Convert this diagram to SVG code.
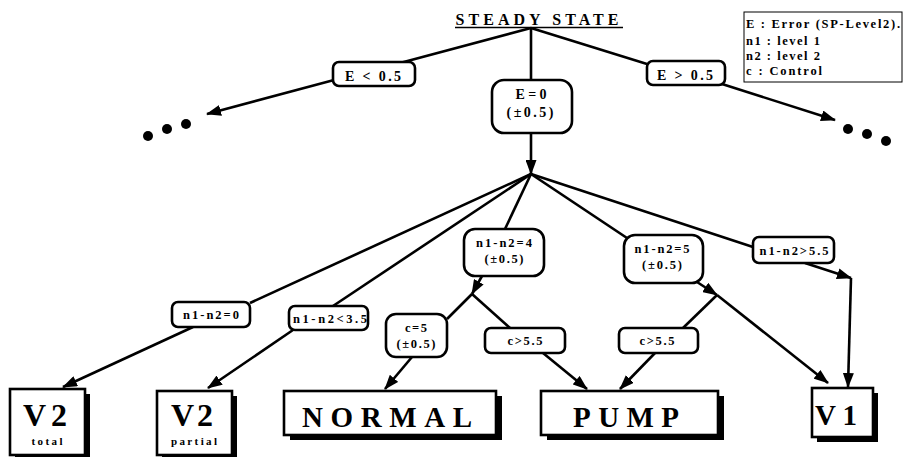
<svg xmlns="http://www.w3.org/2000/svg" width="903" height="457" viewBox="0 0 903 457">
  <style>
    text { font-family: "Liberation Serif", "Times New Roman", serif; font-weight: bold; fill: #000; }
    .lbl { font-size: 12.5px; text-anchor: middle; }
    .elbl { font-size: 14px; text-anchor: middle; }
    .leg { font-size: 12.5px; }
    .big { font-size: 32px; text-anchor: middle; }
    .mid { font-size: 29px; text-anchor: middle; }
    .sub { font-size: 11px; text-anchor: middle; }
    .box { fill: #fff; stroke: #000; stroke-width: 2.6; }
    .shadow { fill: #000; }
    .edge { fill: none; stroke: #000; stroke-width: 2.6; }
    .arrow { marker-end: url(#head); }
  </style>
  <defs>
    <marker id="head" markerUnits="userSpaceOnUse" markerWidth="15" markerHeight="11" viewBox="0 0 15 11" refX="14" refY="5.5" orient="auto">
      <path d="M0,0 L15,5.5 L0,11 z" fill="#000"/>
    </marker>
  </defs>

  <!-- connectors -->
  <g id="connectors">
    <path class="edge" d="M531,28 L400,63"/>
    <path class="edge arrow" d="M334,80 L207,114"/>
    <path class="edge" d="M531,28 L647,64"/>
    <path class="edge arrow" d="M722,84 L835,120"/>
    <path class="edge" d="M531,28 V80"/>
    <path class="edge arrow" d="M531,133 V174"/>
    <path class="edge" d="M531,174 L250,303"/>
    <path class="edge" d="M531,174 L333,306"/>
    <path class="edge" d="M531,174 L505,229"/>
    <path class="edge" d="M531,174 L627,238"/>
    <path class="edge" d="M531,174 L753,247"/>
    <path class="edge arrow" d="M193,327 L63,387"/>
    <path class="edge arrow" d="M293,330 L208,388"/>
    <path class="edge arrow" d="M482,276 L472,294"/>
    <path class="edge" d="M472,294 L447,319"/>
    <path class="edge" d="M472,294 L510,328"/>
    <path class="edge arrow" d="M412,357 L385,389"/>
    <path class="edge arrow" d="M543,353 L587,389"/>
    <path class="edge arrow" d="M697,282 L717,295"/>
    <path class="edge" d="M717,295 L683,328"/>
    <path class="edge arrow" d="M655,353 L620,389"/>
    <path class="edge arrow" d="M717,295 L828,383"/>
    <path class="edge arrow" d="M805,263 L851,278"/>
    <path class="edge arrow" d="M851,278 L848,387"/>
    <!-- continuation dots -->
    <circle cx="148" cy="136" r="5"/>
    <circle cx="167" cy="129" r="5"/>
    <circle cx="186" cy="124" r="5"/>
    <circle cx="848" cy="129" r="5"/>
    <circle cx="867" cy="134" r="5"/>
    <circle cx="886" cy="141" r="5"/>
  </g>

  <!-- root -->
  <g id="steady-state">
    <text x="537" y="25" font-size="16" text-anchor="middle" textLength="163" lengthAdjust="spacing">STEADY STATE</text>
    <line x1="455" y1="27.5" x2="623" y2="27.5" stroke="#000" stroke-width="1.3"/>
  </g>

  <!-- legend -->
  <g id="legend">
    <rect x="744" y="12" width="158" height="70" fill="#fff" stroke="#000" stroke-width="1"/>
    <text class="leg" x="746" y="28" textLength="154" lengthAdjust="spacing">E : Error (SP-Level2).</text>
    <text class="leg" x="746" y="45" textLength="74" lengthAdjust="spacing">n1 : level 1</text>
    <text class="leg" x="746" y="60" textLength="74" lengthAdjust="spacing">n2 : level 2</text>
    <text class="leg" x="746" y="75" textLength="76" lengthAdjust="spacing">c : Control</text>
  </g>

  <!-- first level conditions -->
  <g id="e-less">
    <rect class="box" x="333" y="62" width="82" height="24" rx="6"/>
    <text class="elbl" x="373" y="81" textLength="56" lengthAdjust="spacing">E &lt; 0.5</text>
  </g>
  <g id="e-greater">
    <rect class="box" x="647" y="61" width="78" height="24" rx="6"/>
    <text class="elbl" x="685" y="80" textLength="56" lengthAdjust="spacing">E &gt; 0.5</text>
  </g>
  <g id="e-zero">
    <rect class="box" x="492" y="80" width="80" height="53" rx="12"/>
    <text class="elbl" x="531" y="99" textLength="31" lengthAdjust="spacing">E=0</text>
    <text class="elbl" x="530" y="117" textLength="47" lengthAdjust="spacing">(±0.5)</text>
  </g>

  <!-- level difference conditions -->
  <g id="d0">
    <rect class="box" x="172" y="302" width="78" height="25" rx="6"/>
    <text class="lbl" x="211" y="319" textLength="56" lengthAdjust="spacing">n1-n2=0</text>
  </g>
  <g id="d-lt35">
    <rect class="box" x="289" y="306" width="79" height="24" rx="6"/>
    <text class="lbl" x="330" y="323" textLength="74" lengthAdjust="spacing">n1-n2&lt;3.5</text>
  </g>
  <g id="d4">
    <rect class="box" x="464" y="229" width="80" height="47" rx="11"/>
    <text class="lbl" x="504" y="247" textLength="56" lengthAdjust="spacing">n1-n2=4</text>
    <text class="lbl" x="504" y="263" textLength="39" lengthAdjust="spacing">(±0.5)</text>
  </g>
  <g id="d5">
    <rect class="box" x="624" y="235" width="79" height="48" rx="11"/>
    <text class="lbl" x="662" y="253" textLength="55" lengthAdjust="spacing">n1-n2=5</text>
    <text class="lbl" x="662" y="269" textLength="40" lengthAdjust="spacing">(±0.5)</text>
  </g>
  <g id="d-gt55">
    <rect class="box" x="753" y="237" width="81" height="26" rx="6"/>
    <text class="lbl" x="794" y="255" textLength="69" lengthAdjust="spacing">n1-n2&gt;5.5</text>
  </g>

  <!-- control conditions -->
  <g id="c5">
    <rect class="box" x="386" y="314" width="61" height="43" rx="10"/>
    <text class="lbl" x="416" y="332" textLength="22" lengthAdjust="spacing">c=5</text>
    <text class="lbl" x="416" y="348" textLength="39" lengthAdjust="spacing">(±0.5)</text>
  </g>
  <g id="c-gt55-a">
    <rect class="box" x="485" y="328" width="80" height="25" rx="6"/>
    <text class="lbl" x="525" y="345" textLength="35" lengthAdjust="spacing">c&gt;5.5</text>
  </g>
  <g id="c-gt55-b">
    <rect class="box" x="619" y="328" width="79" height="25" rx="6"/>
    <text class="lbl" x="657" y="345" textLength="35" lengthAdjust="spacing">c&gt;5.5</text>
  </g>

  <!-- outcomes -->
  <g id="v2-total">
    <rect class="shadow" x="15" y="394" width="75" height="66"/>
    <rect class="box" x="10" y="389" width="75" height="66"/>
    <text class="big" x="45" y="426" textLength="44" lengthAdjust="spacing">V2</text>
    <text class="sub" x="47" y="445" textLength="31" lengthAdjust="spacing">total</text>
  </g>
  <g id="v2-partial">
    <rect class="shadow" x="162" y="396" width="75" height="64"/>
    <rect class="box" x="157" y="391" width="75" height="64"/>
    <text class="big" x="192" y="426" textLength="42" lengthAdjust="spacing">V2</text>
    <text class="sub" x="194" y="445" textLength="46" lengthAdjust="spacing">partial</text>
  </g>
  <g id="normal">
    <rect class="shadow" x="290" y="396" width="212" height="44"/>
    <rect class="box" x="284" y="391" width="212" height="44"/>
    <text class="mid" x="387" y="427" textLength="170" lengthAdjust="spacing">NORMAL</text>
  </g>
  <g id="pump">
    <rect class="shadow" x="547" y="396" width="177" height="44"/>
    <rect class="box" x="541" y="391" width="177" height="44"/>
    <text class="mid" x="626" y="427" textLength="106" lengthAdjust="spacing">PUMP</text>
  </g>
  <g id="v1">
    <rect class="shadow" x="817" y="393" width="61" height="49"/>
    <rect class="box" x="812" y="388" width="61" height="49"/>
    <text class="mid" x="836" y="425" textLength="42" lengthAdjust="spacing">V1</text>
  </g>
</svg>
